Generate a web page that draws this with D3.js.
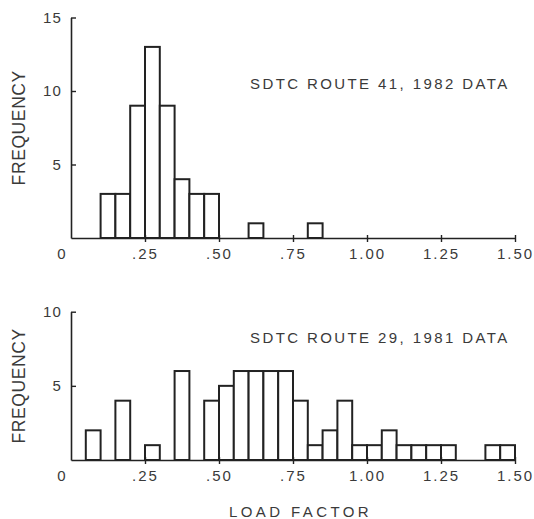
<!DOCTYPE html>
<html>
<head>
<meta charset="utf-8">
<script src="https://cdn.jsdelivr.net/npm/d3@7"></script>
<style>
  body { margin: 0; background: #fff; }
  text { font-family: "Liberation Sans", Arial, sans-serif; fill: #3a3a3a; }
</style>
</head>
<body>
<svg id="chart"></svg>
<script>
// load factor bins, width .05 starting at 0
const binWidth = 0.05;
const route41 = [0, 0, 3, 3, 9, 13, 9, 4, 3, 3, 0, 0, 1, 0, 0, 0, 1, 0, 0, 0, 0, 0, 0, 0, 0, 0, 0, 0, 0, 0];
const route29 = [0, 2, 0, 4, 0, 1, 0, 6, 0, 4, 5, 6, 6, 6, 6, 4, 1, 2, 4, 1, 1, 2, 1, 1, 1, 1, 0, 0, 1, 1];
const xTicks = [0, 0.25, 0.5, 0.75, 1.0, 1.25, 1.5];
const xTickLabels = ["0", ".25", ".50", ".75", "1.00", "1.25", "1.50"];

const width = 534, height = 519;
const svg = d3.select("#chart").attr("width", width).attr("height", height);

const ink = "#222";

function panel(counts, yMax, yTicks, top, bottom, title, titleY) {
  const x = d3.scaleLinear().domain([0, 1.5]).range([71, 515]);
  const y = d3.scaleLinear().domain([0, yMax]).range([bottom, top]);
  const g = svg.append("g");

  const bins = counts.map((c, i) => ({ x0: i * binWidth, x1: (i + 1) * binWidth, n: c }))
    .filter(d => d.n > 0);

  g.selectAll("rect.bar")
    .data(bins)
    .join("rect")
    .attr("class", "bar")
    .attr("x", d => x(d.x0))
    .attr("width", d => x(d.x1) - x(d.x0))
    .attr("y", d => y(d.n))
    .attr("height", d => y(0) - y(d.n))
    .attr("fill", "#fff")
    .attr("stroke", ink)
    .attr("stroke-width", 2);

  // y axis, ticks point inward
  const yAxis = g.append("g")
    .attr("transform", `translate(${x(0)},0)`)
    .call(d3.axisLeft(y).tickValues(yTicks).tickSizeInner(-5).tickSizeOuter(0).tickPadding(9));
  yAxis.select(".domain").attr("stroke", ink).attr("stroke-width", 1.6);
  yAxis.selectAll(".tick line").attr("stroke", ink).attr("stroke-width", 1.4);
  yAxis.selectAll("text").attr("font-size", 15).attr("letter-spacing", 1.2)
    .attr("font-family", null).attr("fill", null);

  // x axis, ticks cross the line
  const xAxis = g.append("g")
    .attr("transform", `translate(0,${y(0)})`)
    .call(d3.axisBottom(x).tickValues(xTicks).tickFormat((d, i) => xTickLabels[i])
      .tickSizeInner(4).tickSizeOuter(0).tickPadding(6));
  xAxis.select(".domain").attr("stroke", ink).attr("stroke-width", 1.6);
  xAxis.selectAll(".tick line").attr("stroke", ink).attr("stroke-width", 1.4).attr("y1", -3);
  xAxis.selectAll(".tick").filter(d => d === 0).select("line").remove();
  xAxis.selectAll("text").attr("font-size", 15).attr("letter-spacing", 2)
    .attr("font-family", null).attr("fill", null)
    .attr("x", d => d === 0 ? -9 : 0);

  g.append("text")
    .attr("x", 250)
    .attr("y", titleY)
    .attr("font-size", 15)
    .attr("letter-spacing", 2.4)
    .text(title);

  g.append("text")
    .attr("transform", `translate(25,${(top + bottom) / 2}) rotate(-90)`)
    .attr("text-anchor", "middle")
    .attr("font-size", 17.5)
    .attr("letter-spacing", 0.6)
    .text("FREQUENCY");
}

panel(route41, 15, [5, 10, 15], 17.5, 238, "SDTC ROUTE 41, 1982 DATA", 89);
panel(route29, 10, [5, 10], 311.7, 460, "SDTC ROUTE 29, 1981 DATA", 343);

svg.append("text")
  .attr("x", 229)
  .attr("y", 517)
  .attr("font-size", 15)
  .attr("letter-spacing", 3.4)
  .text("LOAD FACTOR");
</script>
</body>
</html>
